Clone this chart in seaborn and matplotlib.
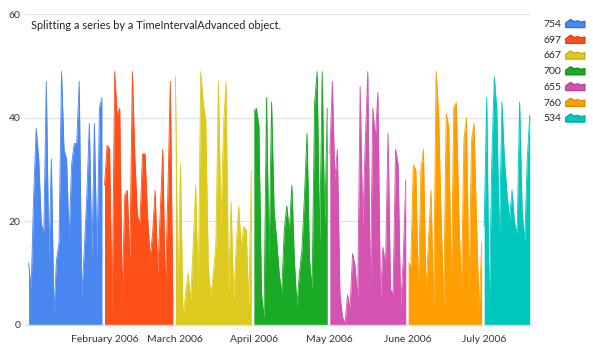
import numpy as np
import pandas as pd
import seaborn as sns
import matplotlib.pyplot as plt
import matplotlib.dates as mdates
from matplotlib.legend_handler import HandlerBase
from matplotlib.patches import Polygon

# 每月的日数据
jan_vals = [12, 7, 25, 38, 32, 19.6, 17.7, 47, 12.5, 32, 2.3, 12.5, 15.8, 48.9, 33.8,
            32, 16.4, 31, 35, 35, 47, 5.5, 14.5, 25, 38.9, 13, 38.9, 12.5, 42, 43.9]
feb_vals = [27, 34.7, 34, 2.3, 48.9, 40.5, 41.8, 5.5, 25, 26, 12.5, 48.9, 32, 21,
            19.6, 33, 33, 21, 13, 17.7, 26, 10, 21.5, 33.9, 6.8, 25, 47, 3.9]
mar_vals = [47.9, 6, 31, 1.3, 6, 10, 4.8, 15, 27, 6, 48.9, 42.8, 39.5, 11, 5.5, 10,
            15.8, 47, 19, 38, 47, 6, 23.8, 4.8, 15, 23, 15, 19, 18.3, 3.2, 29.9]
apr_vals = [41.2, 41.8, 38.3, 6, 1.3, 43.9, 12.5, 43, 22, 16.4, 10, 6.1, 18.3, 23, 18,
            27, 12.5, 3.5, 10, 14.5, 25, 37, 12.5, 6.8, 42.8, 48.9, 15.8, 48.9, 19, 41.8]
may_vals = [33, 47, 28, 33.9, 6.1, 1.6, 0.3, 5.8, 3.2, 13.8, 11.3, 4.8, 46, 19, 35, 48.9,
            6.1, 41.8, 36, 44.9, 4.8, 15, 11.3, 37, 6.8, 6.1, 33.9, 30.9, 3.5, 12.5, 28]
jun_vals = [11.9, 11.3, 30.9, 29.9, 6.1, 29.9, 33.9, 6.1, 16.4, 26, 3.5, 48.9, 40.8, 20,
            4.2, 40.8, 38.3, 6.8, 42.1, 42.9, 20.9, 6.1, 36, 39.9, 6.1, 35.7, 38.9, 19, 2.3, 15.8]
jul_vals = [19, 43.9, 2.3, 31.8, 47.9, 41.5, 15.8, 43, 31.8, 25.4, 20.3, 26, 19.6, 17.7,
            43, 22, 16, 31.8, 40.5]

# 每段起始日期
starts = ['2006-01-02', '2006-02-01', '2006-03-01', '2006-04-01', '2006-05-01', '2006-06-01', '2006-07-01']
# 图例中的合计值
totals = ['754', '697', '667', '700', '655', '760', '534']
colors = ['#4a86f0', '#ff4f19', '#dccb1e', '#1aaa25', '#d452b0', '#ff9e00', '#00c8bf']
edge_colors = ['#2f6ad0', '#d83a0a', '#b8a810', '#10881a', '#b03a90', '#d98200', '#00a39b']

series = [jan_vals, feb_vals, mar_vals, apr_vals, may_vals, jun_vals, jul_vals]


class AreaHandler(HandlerBase):
    # 图例里的小面积图标
    def create_artists(self, legend, orig_handle, xdescent, ydescent, width, height, fontsize, trans):
        xs = np.array([0, 0, 0.25, 0.45, 0.62, 0.8, 1, 1]) * width - xdescent
        ys = np.array([0, 0.55, 0.95, 0.7, 0.8, 0.65, 0.75, 0]) * height - ydescent
        p = Polygon(np.column_stack([xs, ys]), closed=True,
                    facecolor=orig_handle.get_facecolor(), edgecolor=orig_handle.get_edgecolor(),
                    linewidth=0.8, transform=trans)
        return [p]


sns.set_theme(style='white')
plt.rcParams['font.family'] = ['Lato', 'DejaVu Sans']

fig = plt.figure(figsize=(5.93, 3.53), dpi=100)
ax = fig.add_axes([25 / 593, 28 / 353, 506 / 593, 311 / 353])

handles = []
for vals, start, c, ec, lab in zip(series, starts, colors, edge_colors, totals):
    dates = pd.date_range(start, periods=len(vals), freq='D')
    df = pd.DataFrame({'date': dates, 'value': vals})
    h = ax.fill_between(df['date'], 0, df['value'], color=c, linewidth=0)
    sns.lineplot(data=df, x='date', y='value', ax=ax, color=c, linewidth=0.6, legend=False)
    h.set_edgecolor(ec)
    handles.append(h)

ax.set_ylim(0, 60)
ax.set_yticks([0, 20, 40, 60])
ax.set_xlim(pd.Timestamp('2006-01-01') - pd.Timedelta(hours=10), pd.Timestamp('2006-07-19') + pd.Timedelta(hours=12))
ax.xaxis.set_major_locator(mdates.MonthLocator(bymonth=range(2, 8)))
ax.xaxis.set_major_formatter(mdates.DateFormatter('%B %Y'))
ax.set_xlabel('')
ax.set_ylabel('')
ax.grid(axis='y', color='#e4e4e4', linewidth=0.9)
ax.set_axisbelow(True)
for s in ['top', 'right', 'left']:
    ax.spines[s].set_visible(False)
ax.spines['bottom'].set_color('#e0e0e0')
ax.spines['bottom'].set_linewidth(1)
ax.tick_params(axis='x', length=4, color='#d8d8d8', width=1, labelsize=7.5, labelcolor='#333333', pad=3)
ax.tick_params(axis='y', length=0, labelsize=7.5, labelcolor='#333333', pad=3)

ax.text(0.012, 0.963, 'Splitting a series by a TimeIntervalAdvanced object.',
        transform=ax.transAxes, fontsize=7.9, color='#222222', va='center', ha='left')

leg = fig.legend(handles=handles, labels=totals, handler_map={type(handles[0]): AreaHandler()},
                 loc='upper left', bbox_to_anchor=(543 / 593, 1 - 19 / 353), frameon=False,
                 markerfirst=False, fontsize=7.5, labelspacing=0.56, handlelength=1.85,
                 handleheight=0.9, handletextpad=0.45, borderaxespad=0, borderpad=0)

fig.savefig('out.png', dpi=100)
